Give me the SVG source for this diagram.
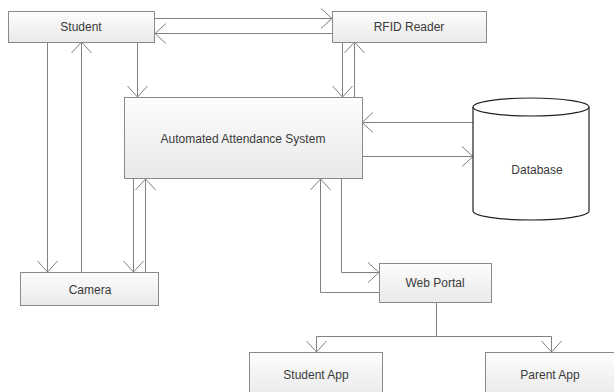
<svg xmlns="http://www.w3.org/2000/svg" width="614" height="392" viewBox="0 0 614 392">
<style>
.box{fill:url(#g);stroke:#8a8a8a;stroke-width:1}
.t{font-family:"Liberation Sans",Arial,sans-serif;font-size:12px;fill:#3a3a3a;text-anchor:middle;dominant-baseline:central}
.c{fill:none;stroke:#808080;stroke-width:1;marker-end:url(#a)}
.l{fill:none;stroke:#808080;stroke-width:1}
</style>
<defs>
<linearGradient id="g" x1="0" y1="0" x2="0" y2="1">
<stop offset="0" stop-color="#fdfdfd"/>
<stop offset="1" stop-color="#e9e9e9"/>
</linearGradient>
<marker id="a" markerUnits="userSpaceOnUse" viewBox="-13 -12 15 24" refX="0" refY="0" markerWidth="15" markerHeight="24" orient="auto" overflow="visible">
<path d="M-11,-10 L0,0 L-11,10" fill="none" stroke="#808080" stroke-width="1"/>
</marker>
</defs>
<rect width="614" height="392" fill="#fff"/>
<g id="connectors">
<path class="c" d="M154.5,18.5 H332"/>
<path class="c" d="M332,33.5 H155"/>
<path class="c" d="M137.5,42 V97"/>
<path class="c" d="M47.5,42 V272"/>
<path class="c" d="M81.5,272 V42"/>
<path class="c" d="M342.5,42 V97"/>
<path class="c" d="M354.5,97 V42"/>
<path class="c" d="M473,122.5 H362"/>
<path class="c" d="M362,156.5 H473"/>
<path class="c" d="M133.5,178 V272"/>
<path class="c" d="M145.5,272 V179"/>
<path class="c" d="M341.5,178 V272.5 H379"/>
<path class="c" d="M379,292.5 H320.5 V179"/>
<path class="l" d="M436.5,302 V336.5"/>
<path class="c" d="M436.5,336.5 H316.5 V352"/>
<path class="c" d="M436.5,336.5 H551.5 V352"/>
</g>
<g id="student"><rect class="box" x="8.5" y="11.5" width="146" height="31"/><text class="t" x="81" y="27">Student</text></g>
<g id="rfid"><rect class="box" x="332.5" y="11.5" width="154" height="31"/><text class="t" x="409" y="27">RFID Reader</text></g>
<g id="aas"><rect class="box" x="124.5" y="97.5" width="238" height="81"/><text class="t" x="243" y="139">Automated Attendance System</text></g>
<g id="database">
<path d="M473,107 V211 A58,9 0 0 0 589,211 V107" fill="#fff" stroke="#222" stroke-width="1.2"/>
<ellipse cx="531" cy="107" rx="58" ry="9" fill="#fff" stroke="#222" stroke-width="1.2"/>
<text class="t" x="537" y="170">Database</text>
</g>
<g id="camera"><rect class="box" x="20.5" y="272.5" width="138" height="33"/><text class="t" x="90" y="290">Camera</text></g>
<g id="webportal"><rect class="box" x="379.5" y="263.5" width="112" height="39"/><text class="t" x="435" y="283">Web Portal</text></g>
<g id="studentapp"><rect class="box" x="249.5" y="352.5" width="133" height="46"/><text class="t" x="316" y="375">Student App</text></g>
<g id="parentapp"><rect class="box" x="485.5" y="352.5" width="133" height="46"/><text class="t" x="550" y="375">Parent App</text></g>
</svg>
